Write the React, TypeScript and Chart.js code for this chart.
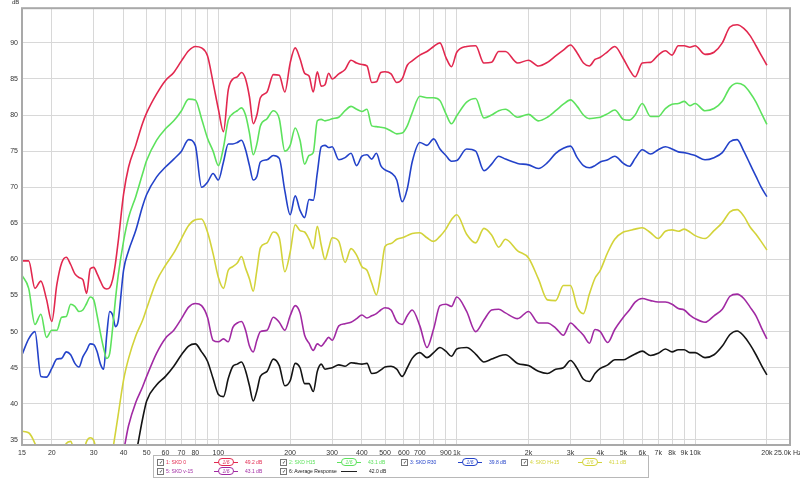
import { useEffect, useRef } from "react";
import { Chart, registerables } from "chart.js";

Chart.register(...registerables);

// frequency grid (Hz)
const FREQS = [
  15, 16, 17, 18, 19, 20, 21, 22, 23, 24, 25, 26, 27, 28, 29, 30, 31, 32, 33, 34, 35, 36, 37, 38, 40, 42, 45, 48, 50,
  55, 60, 65, 70, 75, 80, 85, 90, 95, 100, 105, 110, 115, 120, 125, 130, 135, 140, 145, 150, 160, 170, 180, 190,
  200, 210, 220, 230, 240, 250, 260, 270, 280, 290, 300, 320, 340, 360, 380, 400, 420, 440, 460, 480, 500, 530,
  560, 590, 620, 650, 700, 750, 800, 850, 900, 950, 1000, 1100, 1200, 1300, 1400, 1500, 1600, 1800, 2000, 2200,
  2400, 2600, 2800, 3000, 3200, 3400, 3600, 3800, 4000, 4300, 4600, 5000, 5300, 5600, 6000, 6500, 7000, 7500,
  8000, 8500, 9000, 9500, 10000, 11000, 12000, 13000, 14000, 15000, 16000, 17000, 18000, 19000, 20000,
];

const SKD_0 = [
  59.8, 59.8, 56.0, 57.0, 54.5, 51.4, 56.5, 59.5, 60.3, 59.3, 58.0, 57.5, 57.2, 55.3, 58.7, 58.9, 58.0, 57.0, 56.1,
  55.9, 56.1, 57.2, 59.5, 62.5, 69.0, 72.8, 75.8, 78.8, 80.3, 82.9, 84.8, 85.9, 87.5, 88.9, 89.5, 89.3, 88.2, 84.5,
  80.8, 77.7, 83.5, 85.0, 85.3, 85.9, 85.0, 82.5, 78.8, 80.0, 82.4, 83.2, 85.6, 85.5, 83.2, 87.2, 89.3, 87.8, 85.8,
  85.4, 83.2, 86.0, 84.0, 84.2, 85.8, 85.0, 85.7, 86.3, 87.6, 87.2, 87.0, 86.8, 84.5, 84.6, 85.9, 86.0, 85.7, 84.5,
  85.0, 86.9, 87.5, 88.3, 88.8, 89.5, 90.0, 88.0, 86.7, 88.7, 89.5, 89.6, 87.2, 87.3, 88.8, 88.8, 87.2, 87.6, 86.8,
  87.3, 88.2, 89.0, 89.7, 88.6, 87.2, 86.8, 87.7, 88.0, 88.8, 89.5, 87.8, 86.3, 85.3, 87.2, 87.3, 88.3, 88.9, 88.3,
  89.6, 89.6, 89.4, 89.6, 88.4, 88.7, 90.0, 92.2, 92.5, 92.0, 91.0, 89.6, 88.2, 86.9,
];

const SKD_H15 = [
  57.8, 56.0, 51.0, 52.4, 49.2, 50.2, 50.2, 52.0, 52.1, 53.8, 53.5, 52.8, 53.0, 53.9, 54.8, 54.4, 52.2, 49.8, 47.7,
  46.3, 47.0, 50.5, 54.5, 57.8, 62.5, 65.8, 68.7, 71.8, 73.7, 76.5, 78.1, 79.2, 80.6, 82.2, 82.1, 79.5, 76.8, 75.0,
  73.0, 75.5, 79.3, 80.2, 80.6, 81.0, 80.0, 77.5, 74.5, 76.0, 78.5, 79.5, 80.6, 79.5, 75.0, 75.8, 78.2, 76.5, 73.2,
  74.4, 74.8, 79.2, 79.4, 79.2, 79.3, 79.5, 79.7, 80.6, 81.2, 80.8, 80.5, 80.8, 78.5, 78.4, 78.3, 78.2, 77.8, 77.4,
  77.5, 78.5, 80.3, 82.6, 82.4, 82.4, 82.0, 80.2, 78.8, 79.9, 81.8, 82.3, 79.6, 80.0, 80.6, 80.8, 79.7, 80.1, 79.2,
  79.7, 80.6, 81.5, 82.1, 81.2, 80.0, 79.5, 79.6, 79.7, 80.2, 80.7, 79.4, 79.3, 80.0, 81.6, 79.8, 79.8, 80.9, 81.5,
  81.6, 81.9, 81.3, 81.6, 80.6, 80.9, 81.9, 83.8, 84.4, 84.1, 83.1, 81.8, 80.2, 78.7,
];

const SKD_R30 = [
  46.8, 49.0, 50.0, 43.8, 43.7, 44.9, 46.2, 46.3, 47.2, 46.8, 45.6, 45.1, 46.5, 47.4, 48.3, 48.2, 47.2, 45.5, 44.8,
  49.5, 52.8, 52.3, 50.7, 51.5, 58.5, 61.2, 64.0, 67.3, 69.0, 71.4, 72.8, 73.9, 75.0, 76.6, 75.8, 70.0, 70.7, 71.9,
  71.0, 73.5, 76.0, 76.0, 76.2, 76.5, 75.2, 73.0, 71.0, 71.5, 73.5, 73.8, 74.4, 74.0, 69.5, 66.2, 68.8, 66.8, 65.8,
  68.3, 68.2, 72.0, 75.6, 75.8, 75.5, 75.6, 73.8, 74.1, 74.7, 73.0, 74.3, 74.5, 73.9, 74.7, 73.0, 72.4, 72.0, 71.0,
  68.0, 69.8, 73.5, 76.2, 75.8, 76.7, 75.3, 74.4, 73.6, 73.7, 75.3, 75.0, 72.3, 73.2, 74.3, 73.9, 73.3, 73.1, 72.6,
  73.4, 74.7, 75.4, 75.7, 74.1, 73.0, 72.7, 73.0, 73.5, 73.8, 74.3, 73.3, 72.9, 74.0, 75.2, 74.6, 75.2, 75.6, 75.3,
  74.9, 74.8, 74.6, 74.4, 73.8, 74.1, 74.8, 76.3, 76.6, 75.0, 73.2, 71.5, 69.9, 68.7,
];

const SKD_H_P15 = [
  36.2, 36.0, 34.5, 32.0, 31.0, 31.0, 31.0, 32.0, 34.5, 34.8, 33.0, 31.5, 33.0, 34.8, 35.3, 34.9, 33.0, 31.0, 30.0,
  30.0, 31.0, 33.5, 36.0, 38.5, 43.3, 46.3, 49.4, 51.5, 53.2, 57.0, 59.2, 60.9, 62.9, 64.7, 65.5, 65.6, 63.8, 60.8,
  57.5, 56.0, 58.5, 59.0, 59.5, 60.4, 58.8, 57.3, 55.6, 58.5, 61.6, 62.3, 63.8, 63.0, 58.3, 61.0, 64.8, 64.0, 63.8,
  62.8, 61.5, 64.6, 62.0, 60.0, 61.5, 63.0, 62.5, 59.6, 61.5, 60.6, 59.0, 58.5, 56.7, 55.1, 58.0, 61.8, 62.2, 62.8,
  63.0, 63.3, 63.6, 63.7, 63.0, 62.5, 63.2, 64.2, 65.5, 66.2, 63.5, 62.3, 64.3, 63.4, 61.7, 62.8, 61.2, 60.2, 57.3,
  54.4, 54.3, 56.4, 56.4, 53.4, 52.5, 55.2, 57.4, 58.5, 61.0, 62.8, 63.8, 64.0, 64.2, 64.4, 63.7, 62.9, 63.9, 64.1,
  63.9, 64.2, 63.8, 63.3, 62.9, 64.0, 65.1, 66.6, 66.9, 66.0, 64.5, 63.5, 62.4, 61.3,
];

const SKD_V_M15 = [
  null, null, null, null, null, null, null, null, null, null, null, null, null, null, null, null, null, null, null,
  null, null, null, null, 31.0, 33.5, 37.0, 40.2, 42.3, 43.8, 47.0, 49.1, 50.2, 51.8, 53.4, 53.9, 53.6, 52.0, 48.8,
  48.6, 49.0, 48.6, 50.6, 51.2, 51.4, 50.2, 48.0, 47.2, 48.8, 50.0, 50.2, 52.0, 51.3, 50.2, 52.2, 53.6, 52.6, 49.5,
  48.4, 47.4, 48.3, 48.0, 48.6, 49.2, 48.8, 50.8, 51.1, 51.3, 51.8, 52.3, 51.9, 52.2, 52.5, 53.0, 53.3, 53.0, 51.4,
  51.0, 52.2, 53.0, 50.8, 47.8, 50.4, 53.6, 53.8, 53.5, 54.8, 52.8, 50.0, 51.6, 53.0, 53.1, 52.6, 51.8, 52.8, 51.2,
  51.2, 50.5, 49.5, 51.2, 50.4, 49.5, 48.4, 50.3, 50.0, 48.5, 50.3, 52.0, 53.0, 54.1, 54.6, 54.3, 54.1, 54.1, 53.8,
  53.2, 53.0, 52.3, 51.8, 51.3, 52.2, 53.1, 54.9, 55.2, 54.6, 53.4, 52.2, 50.5, 49.0,
];

const AVERAGE = [
  null, null, null, null, null, null, null, null, null, null, null, null, null, null, null, null, null, null, null,
  null, null, null, null, null, null, 30.0, 33.0, 37.8, 40.4, 42.6, 43.8, 45.2, 46.8, 48.0, 48.3, 47.2, 45.9, 43.5,
  41.3, 41.0, 43.5, 45.2, 45.5, 45.8, 44.6, 42.5, 40.4, 41.8, 43.8, 44.5, 46.2, 45.3, 42.5, 43.2, 45.6, 45.0, 42.8,
  42.8, 41.7, 44.5, 45.5, 44.8, 44.9, 45.0, 45.4, 45.2, 45.7, 45.6, 45.5, 45.6, 44.2, 44.3, 44.7, 45.1, 45.2, 44.8,
  43.8, 45.0, 46.3, 47.1, 46.4, 47.1, 47.8, 47.3, 46.6, 47.6, 47.8, 46.9, 45.8, 46.2, 46.6, 46.8, 45.6, 45.3, 44.5,
  44.2, 44.8, 45.0, 46.0, 44.9, 43.4, 43.1, 44.2, 44.9, 45.4, 46.1, 46.1, 46.5, 46.9, 47.3, 46.7, 47.0, 47.6, 47.2,
  47.5, 47.5, 47.1, 47.1, 46.4, 46.8, 48.0, 49.6, 50.1, 49.4, 48.2, 46.8, 45.3, 44.0,
];

const SERIES_LABELS = ["1: SKD 0", "2: SKD H15", "3: SKD R30", "4: SKD H+15", "5: SKD v-15", "6: Average Response"];
const SERIES_LEVELS = ["49.2 dB", "43.1 dB", "39.8 dB", "41.1 dB", "43.1 dB", "42.0 dB"];
const SERIES_VALUES = [SKD_0, SKD_H15, SKD_R30, SKD_H_P15, SKD_V_M15, AVERAGE];
const COLORS = ["#e2284f", "#5de25d", "#2342c9", "#d3d33a", "#a12aa3", "#141414"];

const X_TICKS = [15, 20, 30, 40, 50, 60, 70, 80, 90, 100, 200, 300, 400, 500, 600, 700, 800, 900, 1000, 2000, 3000, 4000, 5000, 6000, 7000, 8000, 9000, 10000, 20000];
const X_TICK_LABELS = ["15", "20", "30", "40", "50", "60", "70", "80", "", "100", "200", "300", "400", "500", "600", "700", "", "900", "1k", "2k", "3k", "4k", "5k", "6k", "7k", "8k", "9k", "10k", "20k"];
const Y_TICKS = [35, 40, 45, 50, 55, 60, 65, 70, 75, 80, 85, 90];

const FONT = "'Liberation Sans', Arial, sans-serif";

const framePlugin = {
  id: "frame",
  afterDatasetsDraw(chart: any) {
    const { ctx, chartArea } = chart;
    ctx.save();
    ctx.strokeStyle = "#a9a9a9";
    ctx.lineWidth = 2;
    ctx.strokeRect(chartArea.left, chartArea.top, chartArea.right - chartArea.left, chartArea.bottom - chartArea.top);
    ctx.restore();
  },
};

function LegendItem({ i, x, y }: { i: number; x: number; y: number }) {
  const color = COLORS[i];
  const isAvg = i === 5;
  return (
    <div style={{ position: "absolute", left: x, top: y, height: 8, width: 118, fontSize: 5, lineHeight: "8px", color }}>
      <span
        style={{
          position: "absolute", left: 0, top: 1, width: 5, height: 5, border: "1px solid #777",
          fontSize: 5, lineHeight: "5px", color: "#222", textAlign: "center",
        }}
      >
        ✓
      </span>
      <span style={{ position: "absolute", left: 9, top: 0, whiteSpace: "nowrap" }}>{SERIES_LABELS[i]}</span>
      {isAvg ? (
        <span style={{ position: "absolute", left: 61, top: 4, width: 16, height: 1, background: "#222" }} />
      ) : (
        <span style={{ position: "absolute", left: 57, top: 0, width: 24, height: 8 }}>
          <span style={{ position: "absolute", left: 0, top: 4, width: 24, height: 1, background: color }} />
          <span
            style={{
              position: "absolute", left: 4, top: 0, width: 14, height: 6, border: `1px solid ${color}`,
              borderRadius: 4, background: "#fff", fontSize: 5, lineHeight: "6px", textAlign: "center", fontStyle: "italic",
            }}
          >
            1/6
          </span>
        </span>
      )}
      <span style={{ position: "absolute", left: isAvg ? 89 : 88, top: 0, whiteSpace: "nowrap", color: isAvg ? "#222" : color }}>
        {SERIES_LEVELS[i]}
      </span>
    </div>
  );
}

export default function App() {
  const canvasRef = useRef<HTMLCanvasElement | null>(null);

  useEffect(() => {
    if (!canvasRef.current) return;
    const chart = new Chart(canvasRef.current.getContext("2d")!, {
      type: "line",
      data: {
        datasets: SERIES_VALUES.map((vals, i) => ({
          label: SERIES_LABELS[i],
          data: FREQS.map((f, k) => ({ x: f, y: vals[k] })),
          borderColor: COLORS[i],
          borderWidth: 1.6,
          pointRadius: 0,
          fill: false,
          cubicInterpolationMode: "monotone",
          spanGaps: false,
        })),
      } as any,
      options: {
        animation: false,
        responsive: false,
        maintainAspectRatio: false,
        layout: { padding: { left: 0, right: 10, top: 7, bottom: 0 } },
        plugins: { legend: { display: false }, tooltip: { enabled: false } },
        scales: {
          x: {
            type: "logarithmic",
            min: 15,
            max: 25000,
            afterBuildTicks: (s: any) => {
              s.ticks = X_TICKS.map((v) => ({ value: v }));
            },
            afterFit: (s: any) => {
              s.height = 33;
            },
            grid: { color: "#d8d8d8", lineWidth: 1, drawTicks: false },
            border: { display: false },
            ticks: {
              autoSkip: false,
              maxRotation: 0,
              padding: 4,
              color: "#333",
              font: { family: FONT, size: 7 },
              callback: (_v: any, idx: number) => X_TICK_LABELS[idx],
            },
          },
          y: {
            min: 34.3,
            max: 94.8,
            afterBuildTicks: (s: any) => {
              s.ticks = Y_TICKS.map((v) => ({ value: v }));
            },
            afterFit: (s: any) => {
              s.width = 22;
            },
            grid: { color: "#d8d8d8", lineWidth: 1, drawTicks: false },
            border: { display: false },
            ticks: {
              padding: 4,
              color: "#333",
              font: { family: FONT, size: 7 },
              callback: (v: any) => String(v),
            },
          },
        },
      } as any,
      plugins: [framePlugin],
    });
    return () => chart.destroy();
  }, []);

  return (
    <div style={{ position: "fixed", left: 0, top: 0, width: 800, height: 478, background: "#fff", fontFamily: FONT }}>
      <canvas ref={canvasRef} width={800} height={478} style={{ width: 800, height: 478, display: "block" }} />
      <div style={{ position: "absolute", left: 12, top: -1, fontSize: 6, color: "#333" }}>dB</div>
      <div style={{ position: "absolute", left: 774, top: 449, fontSize: 7, color: "#333", whiteSpace: "nowrap" }}>25.0k Hz</div>
      <div
        style={{
          position: "absolute", left: 153, top: 455, width: 494, height: 21,
          border: "1px solid #b8b8b8", background: "#fff",
        }}
      >
        <LegendItem i={0} x={3} y={2} />
        <LegendItem i={1} x={126} y={2} />
        <LegendItem i={2} x={247} y={2} />
        <LegendItem i={3} x={367} y={2} />
        <LegendItem i={4} x={3} y={11} />
        <LegendItem i={5} x={126} y={11} />
      </div>
    </div>
  );
}
